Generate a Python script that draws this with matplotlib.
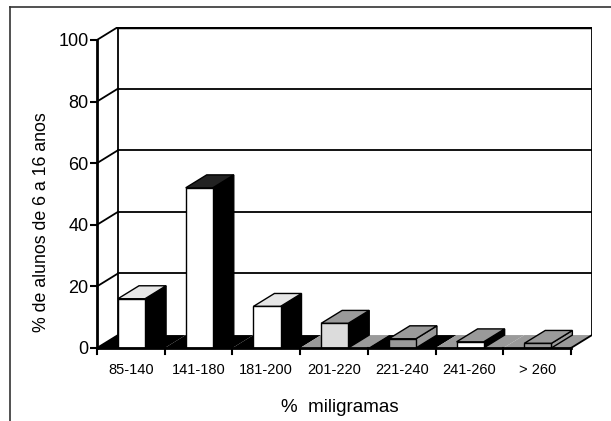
import matplotlib
matplotlib.use('Agg')
import matplotlib.pyplot as plt
from matplotlib.lines import Line2D

plt.rcParams['font.family'] = ['Liberation Sans', 'DejaVu Sans']

# data
categories = ['85-140', '141-180', '181-200', '201-220', '221-240', '241-260', '> 260']
percent = [16, 52, 13.5, 8, 3, 2, 1.5]
y_ticks = [0, 20, 40, 60, 80, 100]

# look of each bar (scanned pattern approximated by flat greys)
front_colors = ['white', 'white', 'white', '#dcdcdc', '#9a9a9a', 'white', '#9a9a9a']
top_colors = ['#e6e6e6', '#222222', '#e6e6e6', '#9a9a9a', '#9a9a9a', '#9a9a9a', '#9a9a9a']
side_colors = ['black', 'black', 'black', 'black', '#9a9a9a', 'black', '#9a9a9a']
floor_colors = ['black', 'black', 'black', '#9a9a9a', 'black', '#9a9a9a', '#9a9a9a']

# fake 3d: depth offset in data units
dx = 0.31
dy = 4.2
bar_w = 0.40
bar_off = 0.31

fig = plt.figure(figsize=(6.11, 4.21), dpi=100)
ax = fig.add_axes([97 / 611, 73 / 421, 495 / 611, 321 / 421])
n = len(categories)
ax.set_xlim(0, n + dx)
ax.set_ylim(0, 100 + dy)
for s in ['top', 'right', 'bottom']:
    ax.spines[s].set_visible(False)
ax.spines['left'].set_bounds(0, 100)
ax.spines['left'].set_linewidth(2)
ax.set_yticks(y_ticks)
ax.set_yticklabels([str(t) for t in y_ticks], fontsize=13)
ax.tick_params(axis='y', length=5, width=1.5, pad=1)
ax.set_xticks([])

lw = 1.3
# back wall and grid
ax.plot([dx, dx], [dy, 100 + dy], color='black', lw=lw)
ax.plot([n + dx, n + dx], [dy, 100 + dy], color='black', lw=lw)
for t in y_ticks:
    ax.plot([0, dx], [t, t + dy], color='black', lw=lw)
    if t > 0:
        ax.plot([dx, n + dx], [t + dy, t + dy], color='black',
                lw=2.5 if t == 100 else lw)

# floor, one piece per category
for i in range(n):
    ax.fill([i, i + 1, i + 1 + dx, i + dx], [0, 0, dy, dy],
            color=floor_colors[i], lw=0, zorder=2)
ax.plot([n, n + dx], [0, dy], color='black', lw=lw, zorder=2)

# bars: side, top and front
for i, v in enumerate(percent):
    xl = i + bar_off
    xr = xl + bar_w
    ax.fill([xr, xr, xr + dx, xr + dx], [0, v, v + dy, dy],
            facecolor=side_colors[i], edgecolor='black', lw=1, zorder=3)
    ax.fill([xl, xr, xr + dx, xl + dx], [v, v, v + dy, v + dy],
            facecolor=top_colors[i], edgecolor='black', lw=1, zorder=3)
ax.bar([i + bar_off + bar_w / 2 for i in range(n)], percent, width=bar_w,
       color=front_colors, edgecolor='black', lw=1, zorder=4)

# front x axis with ticks between categories
ax.plot([0, n], [0, 0], color='black', lw=2, zorder=5, clip_on=False)
for i in range(n + 1):
    ax.plot([i, i], [0, -1.8], color='black', lw=1.5, clip_on=False)
for i, c in enumerate(categories):
    ax.text(i + 0.5, -7, c, ha='center', va='center', fontsize=10.5)

fig.text(42 / 611, 1 - 222 / 421, '% de alunos de 6 a 16 anos', rotation=90,
         ha='center', va='center', fontsize=12.8)
fig.text(340 / 611, 1 - 408 / 421, '%  miligramas', ha='center', va='center',
         fontsize=13.5)

# outer frame of the scanned figure
fig.add_artist(Line2D([10 / 611, 10 / 611], [0, 1 - 7 / 421], color='#333333', lw=1.2))
fig.add_artist(Line2D([10 / 611, 1], [1 - 7 / 421, 1 - 7 / 421], color='#333333', lw=1.2))

fig.savefig('out.png', dpi=100)
